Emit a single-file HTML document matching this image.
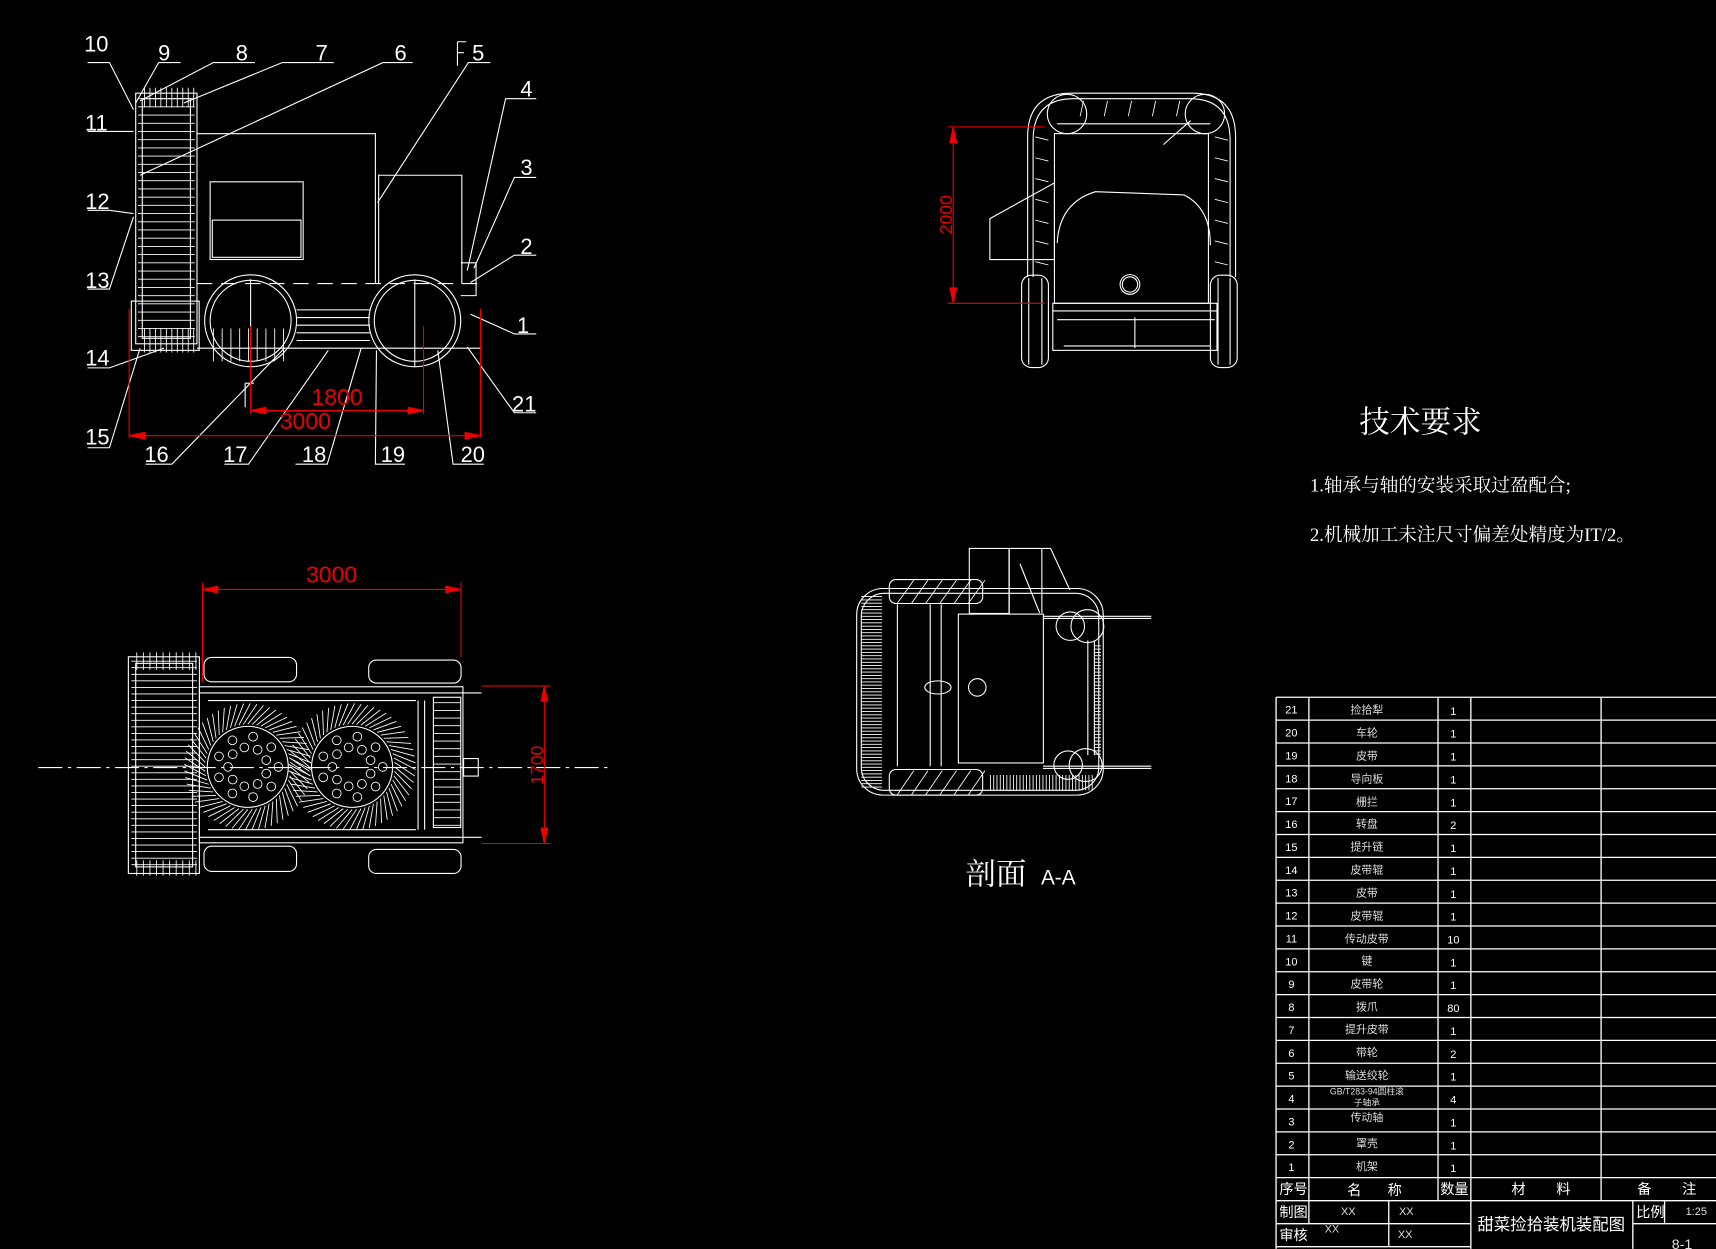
<!DOCTYPE html>
<html><head><meta charset="utf-8"><style>
html,body{margin:0;padding:0;background:#000;overflow:hidden}
svg{display:block}
text{font-family:"Liberation Sans","Noto Sans CJK SC",sans-serif}
.cj{font-family:"Liberation Serif","Noto Serif CJK SC","Noto Sans CJK SC",serif}
</style></head><body>
<svg id="s" width="1716" height="1249" viewBox="0 0 1568 1141" xmlns="http://www.w3.org/2000/svg">
<rect width="1568" height="1141" fill="#000"/>
<g id="geo" stroke="#fff" stroke-width="1" fill="none">
<!-- SIDE VIEW -->
<rect x="124" y="85" width="56" height="229"/>
<rect x="130" y="90" width="44" height="219"/>
<path d="M180 122 H343 V259"/>
<rect x="192" y="166" width="85" height="71"/>
<rect x="194" y="201" width="81" height="34"/>
<path d="M346 259 V160 H422 V259"/>
<path d="M180 259 H440" stroke-dasharray="14 8"/>
<circle cx="229" cy="293" r="42"/><circle cx="229" cy="293" r="37"/>
<circle cx="379" cy="293" r="42"/><circle cx="379" cy="293" r="37"/>
<path d="M229 255 V335 M379 255 V335 M271 283 H338 M271 290 H338 M271 297 H338 M271 304 H338 M271 311 H338 M180 318 H440 M421 240 H435 V270 H421"/>
<rect x="120" y="275" width="62" height="45"/>
<!-- leaders -->
<path d="M80 57 H100 L122 100 M124 94 L145 57 H165 M128 92 L195 57 H233 M168 94 L258 57 H305 M128 160 L350 57 H377 M345 185 L428 57 H448 M427 247 L462 90 H490 M433 245 L470 162 H490 M430 258 L470 233 H490 M430 287 L470 305 H490 M427 317 L470 377 H490 M400 320 L414 424 H442 M344 320 L343 424 H370 M330 318 L299 424 H270 M300 320 L227 424 H205 M260 318 L157 424 H133 M128 318 L100 409 H80 M150 318 L100 336 H80 M122 198 L100 264 H80 M122 195 L100 192 H80 M122 120 H80"/>
<path d="M418 38 V60 M418 38 H426 M418 48 H424"/>
<path d="M224 350 V372 M224 350 H232"/>
<!-- FRONT VIEW -->
<path d="M939 253 V125 Q939 85 979 85 H1089 Q1129 85 1129 125 V253"/>
<path d="M944 253 V128 Q944 90 981 90 H1087 Q1124 90 1124 128 V253"/>
<rect x="963.5" y="122" width="140.7" height="155"/>
<circle cx="975" cy="104" r="18"/><circle cx="1101" cy="104" r="18"/>
<path d="M966 113 H1106 M1063 132 L1088 110"/>
<path d="M966 222 Q968 185 1001 175 L1082 178 Q1106 190 1106 224"/>
<circle cx="1032.5" cy="259.8" r="9"/><circle cx="1032.5" cy="259.8" r="7"/>
<path d="M904.5 199.6 L963.5 167 V237 H904.5 Z"/>
<rect x="933.5" y="251.3" width="24.5" height="84.4" rx="9"/>
<rect x="1106" y="251.3" width="24.5" height="84.4" rx="9"/>
<path d="M940 254 V333 M952 254 V333 M1113 254 V333 M1124 254 V333"/>
<rect x="962" y="277" width="150" height="43"/>
<path d="M962 284 H1112 M966 292 H1110 M972 316 H1106 M1037 290 V318"/>
<!-- PLAN VIEW -->
<rect x="186.4" y="600.6" width="84.6" height="22.3" rx="7"/>
<rect x="336.9" y="603" width="84.4" height="21" rx="7"/>
<rect x="186.4" y="773.1" width="84.6" height="23" rx="7"/>
<rect x="336.9" y="776" width="84.4" height="22" rx="7"/>
<rect x="182.2" y="627.4" width="240.8" height="142.6"/>
<path d="M182 633 H440 M182 765 H440 M190 640 H380 M190 758 H380 M382 640 V758 M388 640 V758"/>
<circle cx="226.4" cy="700.6" r="37"/><circle cx="321.7" cy="700.6" r="37"/>
<rect x="117.3" y="600" width="64.9" height="198"/>
<rect x="124" y="606" width="52" height="186"/>
<rect x="396" y="637" width="25" height="119"/>
<rect x="423.6" y="693" width="13.4" height="16"/>
<path d="M35 701.2 H560" stroke-dasharray="22 5 3 5"/>
<!-- SECTION -->
<rect x="782.8" y="537.6" width="225.3" height="188.8" rx="24"/>
<rect x="787" y="542" width="217" height="180" rx="21"/>
<rect x="885.7" y="501" width="36.5" height="59.4"/>
<path d="M922 501 H960 L977.6 539 M922 501 V560 M952 501 V560 M932 515 L950 560"/>
<rect x="812.6" y="529.4" width="85.3" height="21.9" rx="6"/>
<rect x="812.6" y="703" width="85.3" height="23.4" rx="6"/>
<rect x="875.7" y="561" width="77.7" height="136"/>
<path d="M953 563 H1052 M953 565 H1052 M953 700 H1052 M953 702 H1052 M820 552 V700 M850 552 V700 M860 552 V700"/>
<circle cx="993.6" cy="572" r="15"/><circle cx="978" cy="572" r="13"/>
<circle cx="992" cy="699" r="15"/><circle cx="976" cy="699" r="13"/>
<ellipse cx="857" cy="628" rx="12" ry="6"/><circle cx="893" cy="628" r="8"/>
<path d="M1000 585 V690 M994 585 V690"/>
</g>
<g id="gen" stroke="#fff" stroke-width="0.8" fill="none"></g>
<!-- red dims -->
<g stroke="#e00" stroke-width="1" fill="#e00">
<path d="M118 282 V400 M439 282 V400 M229 298 V378 M387 298 V378" fill="none"/>
<path d="M118 398 H439 M229 375 H387" fill="none"/>
<path d="M118 398 l14 -3 v6z M439 398 l-14 -3 v6z M229 375 l14 -3 v6z M387 375 l-14 -3 v6z"/>
<path d="M866 115.8 H955 M866 277 H955 M871 116 V277" fill="none"/>
<path d="M871 116 l-3 14 h6z M871 277 l-3 -14 h6z"/>
<path d="M185 538.5 H421.3 M185 532 V623 M421.3 532 V600 M440 626.6 H503 M440 770.6 H503 M497.4 626.6 V770.6" fill="none"/>
<path d="M185 538.5 l14 -3 v6z M421.3 538.5 l-14 -3 v6z M497.4 626.6 l-3 14 h6z M497.4 770.6 l-3 -14 h6z"/>
</g>
<g fill="#e00" font-size="21">
<text x="308" y="370" text-anchor="middle">1800</text>
<text x="279" y="392" text-anchor="middle">3000</text>
<text x="303" y="532" text-anchor="middle">3000</text>
<text transform="translate(870 196) rotate(-90)" text-anchor="middle" font-size="16">2000</text>
<text transform="translate(496 699) rotate(-90)" text-anchor="middle" font-size="16">1700</text>
</g>
<g fill="#fff" font-size="20" text-anchor="middle">
<text x="88" y="47">10</text><text x="150" y="55">9</text><text x="221" y="55">8</text><text x="294" y="55">7</text><text x="366" y="55">6</text><text x="437" y="55">5</text>
<text x="481" y="88">4</text><text x="481" y="160">3</text><text x="481" y="232">2</text><text x="478" y="304">1</text><text x="479" y="376">21</text>
<text x="432" y="422">20</text><text x="359" y="422">19</text><text x="287" y="422">18</text><text x="215" y="422">17</text><text x="143" y="422">16</text>
<text x="89" y="406">15</text><text x="89" y="334">14</text><text x="89" y="263">13</text><text x="89" y="191">12</text><text x="88" y="119">11</text>
</g>
<text x="910" y="808" fill="#fff" font-size="28" text-anchor="middle" class="cj">剖面</text>
<text x="967" y="808" fill="#fff" font-size="19" text-anchor="middle">A-A</text>
<text x="1242" y="395" fill="#fff" font-size="28" class="cj">技术要求</text>
<text x="1197" y="449" fill="#fff" font-size="17" class="cj">1.轴承与轴的安装采取过盈配合;</text>
<text x="1197" y="494" fill="#fff" font-size="17" class="cj">2.机械加工未注尺寸偏差处精度为IT/2。</text>
<!-- TABLE -->
<g stroke="#fff" stroke-width="1.2" fill="none" id="tbl">
<path d="M1166 637 H1568 M1166 637 V1141 M1196 637 V1118 M1314 637 V1097 M1344 637 V1141 M1463 637 V1097 M1269 1097 V1139 M1492 1097 V1141 M1521 1097 V1118 M1166 1097 H1568 M1166 1118 H1344 M1492 1118 H1568 M1166 1139 H1344"/>
</g>
<g fill="#ddd" font-size="10" text-anchor="middle" class="cj" id="tt">
<text x="1249" y="652">捡拾犁</text><text x="1249" y="673">车轮</text><text x="1249" y="694">皮带</text><text x="1249" y="715">导向板</text><text x="1249" y="736">栅拦</text><text x="1249" y="756">转盘</text><text x="1249" y="777">提升链</text><text x="1249" y="798">皮带辊</text><text x="1249" y="819">皮带</text><text x="1249" y="840">皮带辊</text><text x="1249" y="861">传动皮带</text><text x="1249" y="881">键</text><text x="1249" y="902">皮带轮</text><text x="1249" y="923">拨爪</text><text x="1249" y="944">提升皮带</text><text x="1249" y="965">带轮</text><text x="1249" y="986">输送绞轮</text><text x="1249" y="1000" font-size="8">GB/T283-94圆柱滚</text><text x="1249" y="1010" font-size="8">子轴承</text><text x="1249" y="1024">传动轴</text><text x="1249" y="1048">罩壳</text><text x="1249" y="1069">机架</text>
</g>
<g fill="#fff" font-size="10" text-anchor="middle" id="tn"></g>
<g fill="#fff" font-size="13" class="cj">
<text x="1169" y="1091">序号</text><text x="1231" y="1092">名</text><text x="1268" y="1092">称</text><text x="1316" y="1091">数量</text><text x="1381" y="1091">材</text><text x="1422" y="1091">料</text><text x="1496" y="1091">备</text><text x="1537" y="1091">注</text>
<text x="1169" y="1112">制图</text><text x="1169" y="1133">审核</text><text x="1495" y="1112">比例</text>
<text x="1350" y="1124" font-size="15">甜菜捡拾装机装配图</text>
</g>
<g fill="#ddd" font-size="10" text-anchor="middle" class="cj">
<text x="1232" y="1110">XX</text><text x="1285" y="1110">XX</text><text x="1217" y="1126">XX</text><text x="1284" y="1131">XX</text><text x="1550" y="1110">1:25</text><text x="1537" y="1141" font-size="13">8-1</text>
</g>
</svg>
<script>
var ns="http://www.w3.org/2000/svg",g=document.getElementById('gen');
function L(a,b,c,d){var e=document.createElementNS(ns,'line');e.setAttribute('x1',a);e.setAttribute('y1',b);e.setAttribute('x2',c);e.setAttribute('y2',d);g.appendChild(e);}
function C(x,y,r){var e=document.createElementNS(ns,'circle');e.setAttribute('cx',x);e.setAttribute('cy',y);e.setAttribute('r',r);g.appendChild(e);}
// side elevator rungs
for(var y=90;y<312;y+=7.5){L(126,y,178,y);}
for(var x=132;x<180;x+=5){L(x,80,x,98);L(x,300,x,322);}
// wheel spokes in side view
for(var x=195;x<260;x+=8){L(x,300,x,330);}
// plan rotor spikes
[[226.4,700.6],[321.7,700.6]].forEach(function(c){for(var a=0;a<360;a+=6){var r=a*Math.PI/180;L(c[0]+39*Math.cos(r),c[1]+39*Math.sin(r),c[0]+58*Math.cos(r+0.25),c[1]+58*Math.sin(r+0.25));}
for(var i=0;i<18;i++){var a=i*20*Math.PI/180,rr=(i%2?18:28);C(c[0]+rr*Math.cos(a),c[1]+rr*Math.sin(a),4);}});
// plan elevator rungs
for(var y=604;y<796;y+=6){L(120,y,180,y);}
for(var x=125;x<180;x+=6){L(x,596,x,612);L(x,786,x,800);}
// grille
for(var y=642;y<756;y+=7){L(396,y,421,y);}
// front view hooks
for(var i=0;i<7;i++){L(946,125+i*19,958,128+i*19);L(1110,125+i*19,1122,128+i*19);}
for(var i=0;i<5;i++){L(990+i*22,92,987+i*22,106);}
// section hatch & brushes
for(var y=545;y<720;y+=3){L(787,y,806,y);}
for(var x=905;x<1000;x+=3){L(x,708,x,722);}
for(var y=590;y<690;y+=3){L(1000,y,1006,y);}
for(var x=820;x<897;x+=13){L(x,551,x+15,530);L(x,726,x+15,704);}
// table numbers
var t=document.getElementById('tn'),q=[1,1,1,1,1,2,1,1,1,1,10,1,1,80,1,2,1,4,1,1,1];
for(var i=0;i<21;i++){var y=637+i*20.9;var e=document.createElementNS(ns,'path');e.setAttribute('d','M1166 '+(y+20.9)+' H1568');e.setAttribute('stroke','#fff');e.setAttribute('stroke-width','1.2');document.getElementById('tbl').appendChild(e);
var a=document.createElementNS(ns,'text');a.setAttribute('x',1180);a.setAttribute('y',y+15);a.textContent=21-i;t.appendChild(a);
var b=document.createElementNS(ns,'text');b.setAttribute('x',1328);b.setAttribute('y',y+16);b.textContent=q[i];t.appendChild(b);}
</script>
</body></html>
